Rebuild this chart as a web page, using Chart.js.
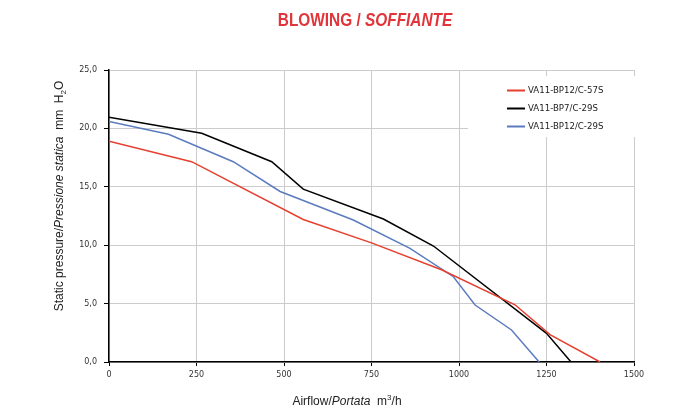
<!DOCTYPE html>
<html>
<head>
<meta charset="utf-8">
<script src="https://cdn.jsdelivr.net/npm/chart.js@4.4.1/dist/chart.umd.min.js"></script>
<style>
  html, body { margin: 0; padding: 0; background: #ffffff; }
  #wrap { position: relative; width: 693px; height: 411px; }
</style>
</head>
<body>
<div id="wrap"><canvas id="c" width="693" height="411"></canvas></div>
<script>
// ---- Data ----
const seriesLabels = ["VA11-BP12/C-57S", "VA11-BP7/C-29S", "VA11-BP12/C-29S"];
const seriesColors = ["#e5402f", "#000000", "#5b7bbf"];

const redFlow      = [0,    236,   555,  750,  950,  1160, 1260, 1403];
const redPressure  = [18.9, 17.15, 12.2, 10.2, 7.9,  4.9,  2.35, 0];

const blackFlow     = [0,    265,   465,   555,  784,   927,  1250, 1320];
const blackPressure = [20.95, 19.58, 17.15, 14.8, 12.24, 9.93, 2.45, 0];

const blueFlow     = [0,    170,  355,   489,  698,   860,  984, 1046, 1150, 1229];
const bluePressure = [20.6, 19.5, 17.15, 14.6, 12.16, 9.73, 7.3, 4.88, 2.74, 0];

const xTicks = [0, 250, 500, 750, 1000, 1250, 1500];
const yTicks = [0, 5, 10, 15, 20, 25];

const titleMain = "BLOWING / ";
const titleItalic = "SOFFIANTE";

function pts(xs, ys) { return xs.map((x, i) => ({ x: x, y: ys[i] })); }

const datasets = [
  { label: seriesLabels[0], data: pts(redFlow, redPressure), borderColor: seriesColors[0] },
  { label: seriesLabels[1], data: pts(blackFlow, blackPressure), borderColor: seriesColors[1] },
  { label: seriesLabels[2], data: pts(blueFlow, bluePressure), borderColor: seriesColors[2] }
].map(d => Object.assign(d, { borderWidth: 1.5, pointRadius: 0, tension: 0, fill: false }));

// draw a sequence of styled segments, centred on (cx, baseY) in the current frame
function drawSegments(ctx, segs, cx, baseY) {
  let total = 0;
  segs.forEach(s => { ctx.font = s.font; s.w = ctx.measureText(s.t).width; total += s.w; });
  let x = cx - total / 2;
  segs.forEach(s => {
    ctx.font = s.font;
    ctx.fillText(s.t, x, baseY + (s.dy || 0));
    x += s.w;
  });
  return total;
}

const decor = {
  id: 'decor',
  afterDraw(chart) {
    const ctx = chart.ctx;
    ctx.save();
    ctx.textAlign = 'left';
    ctx.textBaseline = 'alphabetic';

    // Title (condensed horizontally to match the narrow face of the original)
    ctx.save();
    ctx.fillStyle = '#e0353a';
    ctx.translate(365, 26);
    ctx.scale(0.855, 1);
    drawSegments(ctx, [
      { t: titleMain, font: "bold 18px 'Liberation Sans', Arial, sans-serif" },
      { t: titleItalic, font: "italic bold 18px 'Liberation Sans', Arial, sans-serif" }
    ], 0, 0);
    ctx.restore();

    // X axis title
    ctx.fillStyle = '#222';
    const f = "12px 'Liberation Sans', Arial, sans-serif";
    const fi = "italic 12px 'Liberation Sans', Arial, sans-serif";
    const fs = "8px 'Liberation Sans', Arial, sans-serif";
    drawSegments(ctx, [
      { t: "Airflow/", font: f },
      { t: "Portata", font: fi },
      { t: "  m", font: f },
      { t: "3", font: fs, dy: -5 },
      { t: "/h", font: f }
    ], 347, 405);

    // Y axis title (rotated)
    ctx.save();
    ctx.translate(63, 196);
    ctx.rotate(-Math.PI / 2);
    drawSegments(ctx, [
      { t: "Static pressure/", font: f },
      { t: "Pressione statica", font: fi },
      { t: "  mm  H", font: f },
      { t: "2", font: fs, dy: 3 },
      { t: "O", font: f }
    ], 0, 0);
    ctx.restore();

    // Legend box
    ctx.fillStyle = '#ffffff';
    ctx.fillRect(468, 76, 168, 61);
    const ys = [90.5, 108.5, 126.5];
    chart.data.datasets.forEach((ds, i) => {
      ctx.strokeStyle = ds.borderColor;
      ctx.lineWidth = 2;
      ctx.beginPath();
      ctx.moveTo(507, ys[i]);
      ctx.lineTo(525, ys[i]);
      ctx.stroke();
      ctx.fillStyle = '#222';
      ctx.font = "8.6px 'DejaVu Sans', sans-serif";
      ctx.textBaseline = 'middle';
      ctx.fillText(ds.label, 528, ys[i] + 0.5);
    });
    ctx.restore();
  }
};

new Chart(document.getElementById('c'), {
  type: 'line',
  data: { datasets: datasets },
  plugins: [decor],
  options: {
    responsive: false,
    animation: false,
    devicePixelRatio: 1,
    layout: { padding: { top: 70, right: 59, bottom: 0, left: 0 } },
    plugins: { legend: { display: false }, title: { display: false }, tooltip: { enabled: false } },
    scales: {
      x: {
        type: 'linear',
        min: 0, max: 1500,
        afterFit(s) { s.height = 49; },
        afterBuildTicks(s) { s.ticks = xTicks.map(v => ({ value: v })); },
        ticks: { font: { family: "'DejaVu Sans', sans-serif", size: 8 }, color: '#333', padding: 4, maxRotation: 0, callback: v => String(v) },
        grid: { color: '#cccccc', lineWidth: 1, tickColor: '#000', tickLength: 4, drawTicks: true },
        border: { color: '#000', width: 1.5 }
      },
      y: {
        type: 'linear',
        min: 0, max: 25,
        afterFit(s) { s.width = 109; },
        afterBuildTicks(s) { s.ticks = yTicks.map(v => ({ value: v })); },
        ticks: { font: { family: "'DejaVu Sans', sans-serif", size: 8 }, color: '#333', padding: 7, callback: v => v.toFixed(1).replace('.', ',') },
        grid: { color: '#cccccc', lineWidth: 1, tickColor: '#000', tickLength: 5, drawTicks: true },
        border: { color: '#000', width: 1.5 }
      }
    }
  }
});
</script>
</body>
</html>
